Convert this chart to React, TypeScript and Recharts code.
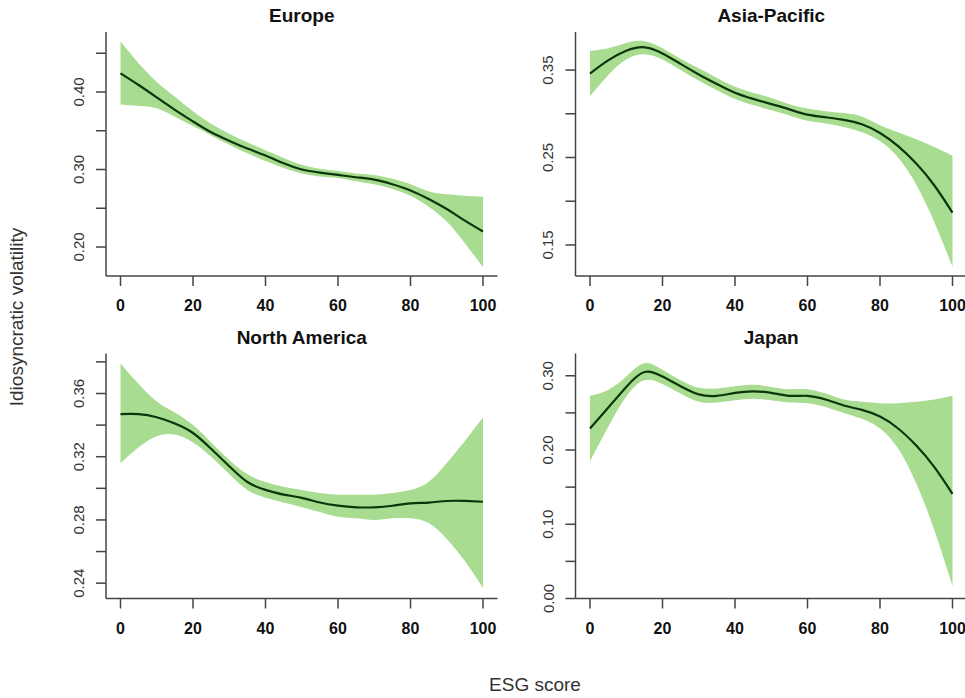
import { ComposedChart, Area, Line, XAxis, YAxis } from "recharts";

// ESG score grid the smooths were evaluated on
const esgScores = [0, 5, 10, 15, 20, 25, 30, 35, 40, 45, 50, 55, 60, 65, 70, 75, 80, 85, 90, 95, 100];
const xTicks = [0, 20, 40, 60, 80, 100];

const europeFit = [0.424, 0.409, 0.393, 0.377, 0.362, 0.348, 0.337, 0.327, 0.318, 0.308, 0.3, 0.296, 0.293, 0.29, 0.287, 0.281, 0.273, 0.262, 0.249, 0.234, 0.22];
const europeUpper = [0.465, 0.437, 0.413, 0.394, 0.375, 0.359, 0.346, 0.335, 0.325, 0.315, 0.306, 0.301, 0.298, 0.295, 0.293, 0.288, 0.281, 0.272, 0.268, 0.266, 0.265];
const europeLower = [0.384, 0.382, 0.379, 0.368, 0.356, 0.344, 0.332, 0.321, 0.311, 0.302, 0.295, 0.291, 0.289, 0.285, 0.281, 0.275, 0.266, 0.252, 0.233, 0.205, 0.174];

const asiaFit = [0.346, 0.361, 0.372, 0.376, 0.369, 0.357, 0.345, 0.334, 0.324, 0.317, 0.311, 0.305, 0.299, 0.296, 0.293, 0.288, 0.278, 0.263, 0.243, 0.218, 0.187];
const asiaUpper = [0.372, 0.375, 0.381, 0.383, 0.375, 0.363, 0.352, 0.341, 0.331, 0.324, 0.318, 0.311, 0.306, 0.303, 0.301, 0.297, 0.287, 0.279, 0.271, 0.262, 0.252];
const asiaLower = [0.32, 0.344, 0.362, 0.368, 0.362, 0.35, 0.338, 0.327, 0.317, 0.31, 0.304, 0.298, 0.292, 0.289, 0.285, 0.279, 0.269, 0.25, 0.219, 0.176, 0.125];

const naFit = [0.347, 0.347, 0.345, 0.341, 0.335, 0.325, 0.314, 0.304, 0.299, 0.296, 0.294, 0.291, 0.289, 0.288, 0.288, 0.289, 0.2905, 0.291, 0.292, 0.292, 0.2915];
const naUpper = [0.379, 0.366, 0.355, 0.348, 0.34, 0.329, 0.318, 0.309, 0.304, 0.301, 0.299, 0.297, 0.296, 0.296, 0.296, 0.297, 0.299, 0.304, 0.316, 0.33, 0.345];
const naLower = [0.316, 0.326, 0.333, 0.334, 0.329, 0.32, 0.309, 0.299, 0.294, 0.291, 0.288, 0.285, 0.282, 0.281, 0.28, 0.281, 0.281, 0.278, 0.268, 0.254, 0.237];

const japanFit = [0.229, 0.257, 0.285, 0.305, 0.299, 0.286, 0.275, 0.273, 0.277, 0.279, 0.277, 0.273, 0.273, 0.268, 0.26, 0.254, 0.245, 0.229, 0.206, 0.177, 0.141];
const japanUpper = [0.273, 0.281, 0.299, 0.317, 0.308, 0.294, 0.284, 0.283, 0.286, 0.288, 0.285, 0.282, 0.282, 0.276, 0.268, 0.265, 0.263, 0.263, 0.265, 0.268, 0.273];
const japanLower = [0.185, 0.231, 0.272, 0.294, 0.289, 0.276, 0.265, 0.264, 0.267, 0.269, 0.267, 0.264, 0.263, 0.258, 0.25, 0.242, 0.229, 0.202, 0.155, 0.092, 0.017];

const FONT = '"Liberation Sans", Arial, sans-serif';
const BAND = "#a8dc90";
const FIT = "#0a360a";
const AXIS = "#444";

function buildRows(fit: number[], lower: number[], upper: number[]) {
  return esgScores.map((x, i) => ({ x, fit: fit[i], band: [lower[i], upper[i]] }));
}

function YTick(props: any) {
  const { x, y, payload, labelled } = props;
  const v = payload.value;
  if (!labelled.some((l: number) => Math.abs(l - v) < 1e-9)) return null;
  return (
    <text
      x={x}
      y={y}
      transform={`rotate(-90 ${x} ${y})`}
      textAnchor="middle"
      fontSize={15}
      fontFamily={FONT}
      fill="#333"
    >
      {v.toFixed(2)}
    </text>
  );
}

interface PanelProps {
  title: string;
  left: number;
  top: number;
  plotLeft: number; // page coords of plot region
  plotRight: number;
  plotTop: number;
  plotBottom: number;
  fit: number[];
  lower: number[];
  upper: number[];
  yDomain: [number, number];
  yTicks: number[];
  yLabels: number[];
}

function Panel(p: PanelProps) {
  const width = 500;
  const height = 330;
  const yW = 60;
  const xH = 40;
  const margin = {
    left: p.plotLeft - p.left - yW,
    right: p.left + width - p.plotRight,
    top: p.plotTop - p.top,
    bottom: p.top + height - p.plotBottom - xH,
  };
  const rows = buildRows(p.fit, p.lower, p.upper);
  return (
    <>
      <div
        style={{
          position: "absolute",
          left: p.plotLeft,
          width: p.plotRight - p.plotLeft,
          top: p.plotTop - 27,
          textAlign: "center",
          fontFamily: FONT,
          fontWeight: "bold",
          fontSize: 19,
          color: "#111",
          lineHeight: "22px",
        }}
      >
        {p.title}
      </div>
      <div style={{ position: "absolute", left: p.left, top: p.top }}>
        <ComposedChart width={width} height={height} data={rows} margin={margin}>
          <XAxis
            dataKey="x"
            type="number"
            domain={[-4, 104]}
            ticks={xTicks}
            allowDataOverflow
            height={xH}
            tickSize={10}
            tickMargin={14}
            axisLine={{ stroke: AXIS, strokeWidth: 1.5 }}
            tickLine={{ stroke: AXIS, strokeWidth: 1.5 }}
            tick={{ fontSize: 16, fontWeight: "bold", fill: "#111", fontFamily: FONT }}
          />
          <YAxis
            type="number"
            domain={p.yDomain}
            ticks={p.yTicks}
            interval={0}
            allowDataOverflow
            width={yW}
            tickSize={10}
            tickMargin={12}
            axisLine={{ stroke: AXIS, strokeWidth: 1.5 }}
            tickLine={{ stroke: AXIS, strokeWidth: 1.5 }}
            tick={<YTick labelled={p.yLabels} />}
          />
          <Area
            dataKey="band"
            type="natural"
            stroke="none"
            fill={BAND}
            fillOpacity={1}
            isAnimationActive={false}
          />
          <Line
            dataKey="fit"
            type="natural"
            stroke={FIT}
            strokeWidth={2.2}
            dot={false}
            isAnimationActive={false}
          />
        </ComposedChart>
      </div>
    </>
  );
}

export default function App() {
  return (
    <div
      style={{
        position: "absolute",
        left: 0,
        top: 0,
        width: 965,
        height: 698,
        overflow: "hidden",
        background: "#fff",
      }}
    >
      <Panel
        title="Europe"
        left={0}
        top={0}
        plotLeft={106}
        plotRight={497.5}
        plotTop={32}
        plotBottom={276}
        fit={europeFit}
        lower={europeLower}
        upper={europeUpper}
        yDomain={[0.1626, 0.4774]}
        yTicks={[0.2, 0.25, 0.3, 0.35, 0.4, 0.45]}
        yLabels={[0.2, 0.3, 0.4]}
      />
      <Panel
        title="Asia-Pacific"
        left={480}
        top={0}
        plotLeft={575.5}
        plotRight={967}
        plotTop={32}
        plotBottom={276}
        fit={asiaFit}
        lower={asiaLower}
        upper={asiaUpper}
        yDomain={[0.1145, 0.3935]}
        yTicks={[0.15, 0.2, 0.25, 0.3, 0.35]}
        yLabels={[0.15, 0.25, 0.35]}
      />
      <Panel
        title="North America"
        left={0}
        top={330}
        plotLeft={106}
        plotRight={497.5}
        plotTop={353.5}
        plotBottom={598.5}
        fit={naFit}
        lower={naLower}
        upper={naUpper}
        yDomain={[0.2303, 0.3853]}
        yTicks={[0.24, 0.26, 0.28, 0.3, 0.32, 0.34, 0.36, 0.38]}
        yLabels={[0.24, 0.28, 0.32, 0.36]}
      />
      <Panel
        title="Japan"
        left={480}
        top={330}
        plotLeft={575.5}
        plotRight={967}
        plotTop={353.5}
        plotBottom={598.5}
        fit={japanFit}
        lower={japanLower}
        upper={japanUpper}
        yDomain={[0, 0.33]}
        yTicks={[0, 0.05, 0.1, 0.15, 0.2, 0.25, 0.3]}
        yLabels={[0, 0.1, 0.2, 0.3]}
      />
      <div
        style={{
          position: "absolute",
          left: 17,
          top: 317,
          transform: "translate(-50%, -50%) rotate(-90deg)",
          whiteSpace: "nowrap",
          fontFamily: FONT,
          fontSize: 19,
          color: "#333",
        }}
      >
        Idiosyncratic volatility
      </div>
      <div
        style={{
          position: "absolute",
          left: 535,
          top: 685,
          transform: "translate(-50%, -50%)",
          whiteSpace: "nowrap",
          fontFamily: FONT,
          fontSize: 19,
          color: "#333",
        }}
      >
        ESG score
      </div>
    </div>
  );
}
